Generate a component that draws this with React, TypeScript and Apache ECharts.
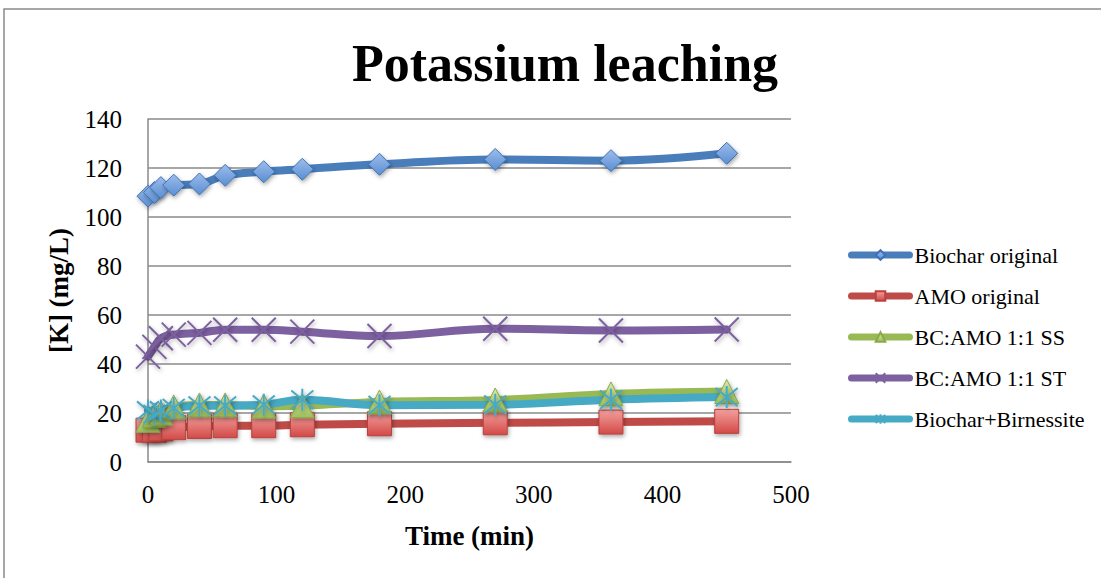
import React, { useEffect, useRef } from "react";
import * as echarts from "echarts";

const times = [0, 5, 10, 20, 40, 60, 90, 120, 180, 270, 360, 450];
const biocharOriginal = [108.5, 110, 112, 113, 113.5, 117, 118.5, 119.5, 121.5, 123.5, 123, 126];
const amoOriginal = [13, 13, 13.5, 14, 14.5, 14.8, 14.8, 15.2, 15.6, 16, 16.3, 16.6];
const bcAmoSS = [17, 19, 20, 22.5, 23.3, 23.3, 22.8, 23, 24.5, 25.3, 27.8, 28.8];
const bcAmoST = [43, 47, 50.5, 52, 52.7, 54, 54, 53.2, 51.4, 54.4, 53.7, 54.1];
const biocharBirnessite = [21, 19.5, 21, 22, 23, 23, 23.4, 25.4, 23.2, 23.4, 25.4, 26.5];

const seriesNames = [
  "Biochar original",
  "AMO original",
  "BC:AMO 1:1 SS",
  "BC:AMO 1:1 ST",
  "Biochar+Birnessite",
];
const yTicks = { min: 0, max: 140, interval: 20 };
const xTicks = { min: 0, max: 500, interval: 100 };

const FONT = "Liberation Serif";

function pairs(values: number[]) {
  return times.map((t, i) => [t, values[i]]);
}

function grad(top: string, bottom: string) {
  return new echarts.graphic.LinearGradient(0, 0, 0, 1, [
    { offset: 0, color: top },
    { offset: 1, color: bottom },
  ]);
}

export default function App() {
  const ref = useRef<HTMLDivElement>(null);

  useEffect(() => {
    if (!ref.current) return;
    const chart = echarts.init(ref.current, undefined, { renderer: "svg" });
    const shadow = {
      shadowBlur: 4,
      shadowColor: "rgba(0,0,0,0.35)",
      shadowOffsetX: 1,
      shadowOffsetY: 2,
    };
    const lineW = 8;
    const mk = (
      name: string,
      data: number[],
      lineColor: string,
      symbol: string,
      symbolSize: number,
      itemStyle: any
    ) => ({
      type: "line",
      name,
      data: pairs(data),
      smooth: 0.4,
      symbol,
      symbolSize,
      showAllSymbol: true,
      lineStyle: { color: lineColor, width: lineW, cap: "round" },
      itemStyle: { ...itemStyle, ...shadow },
      emphasis: { disabled: true },
    });

    const option: any = {
      animation: false,
      backgroundColor: "#ffffff",
      title: {
        text: "Potassium leaching",
        left: 560,
        top: 32,
        textAlign: "center",
        textStyle: {
          fontFamily: FONT,
          fontWeight: "bold",
          fontSize: 52,
          color: "#000",
        },
      },
      graphic: [
        {
          type: "rect",
          shape: { x: 4, y: 9, width: 1300, height: 800 },
          style: { fill: "none", stroke: "#8a8a8a", lineWidth: 1.5 },
          silent: true,
          z: -1,
        },
      ],
      grid: { left: 148, top: 119, right: 310, bottom: 116 },
      legend: {
        orient: "vertical",
        left: 843,
        top: 238,
        itemWidth: 58,
        itemHeight: 12,
        itemGap: 17,
        lineStyle: { width: 7, cap: "round" },
        textStyle: {
          fontFamily: FONT,
          fontSize: 22,
          color: "#000",
          lineHeight: 24,
        },
        data: seriesNames,
      },
      xAxis: {
        type: "value",
        min: xTicks.min,
        max: xTicks.max,
        interval: xTicks.interval,
        name: "Time (min)",
        nameLocation: "middle",
        nameGap: 60,
        nameTextStyle: {
          fontFamily: FONT,
          fontWeight: "bold",
          fontSize: 27,
          color: "#000",
        },
        axisLine: { show: true, lineStyle: { color: "#8a8a8a", width: 1.5 } },
        axisTick: { show: false },
        splitLine: { show: false },
        axisLabel: {
          fontFamily: FONT,
          fontSize: 25,
          color: "#000",
          margin: 20,
        },
      },
      yAxis: {
        type: "value",
        min: yTicks.min,
        max: yTicks.max,
        interval: yTicks.interval,
        name: "[K] (mg/L)",
        nameLocation: "middle",
        nameGap: 76,
        nameRotate: 90,
        nameTextStyle: {
          fontFamily: FONT,
          fontWeight: "bold",
          fontSize: 27,
          color: "#000",
        },
        axisLine: { show: true, lineStyle: { color: "#8a8a8a", width: 1.5 } },
        axisTick: { show: false },
        splitLine: { show: true, lineStyle: { color: "#8a8a8a", width: 1.5 } },
        axisLabel: {
          fontFamily: FONT,
          fontSize: 25,
          color: "#000",
          margin: 26,
        },
      },
      series: [
        mk(seriesNames[0], biocharOriginal, "#4A7EBB", "diamond", 22, {
          color: grad("#9DBDEB", "#5A8ED3"),
          borderColor: "#3F72B5",
          borderWidth: 1,
        }),
        mk(seriesNames[1], amoOriginal, "#BE4B48", "rect", 24, {
          color: grad("#F4A09E", "#D24A47"),
          borderColor: "#B9413E",
          borderWidth: 1,
        }),
        mk(seriesNames[2], bcAmoSS, "#98B954", "triangle", 24, {
          color: grad("#D9EBB0", "#9DC05A"),
          borderColor: "#8AAA48",
          borderWidth: 1,
        }),
        mk(
          seriesNames[3],
          bcAmoST,
          "#7D60A0",
          "path://M0,0L10,10M10,0L0,10",
          24,
          {
            color: "rgba(0,0,0,0)",
            borderColor: "#7D60A0",
            borderWidth: 2,
          }
        ),
        mk(
          seriesNames[4],
          biocharBirnessite,
          "#46AAC5",
          "path://M0,0L10,10M10,0L0,10M5,-1L5,11",
          22,
          {
            color: "rgba(0,0,0,0)",
            borderColor: "#46AAC5",
            borderWidth: 2,
          }
        ),
      ],
    };
    chart.setOption(option);
    return () => chart.dispose();
  }, []);

  return (
    <div
      ref={ref}
      style={{ position: "fixed", left: 0, top: 0, width: 1101, height: 578 }}
    />
  );
}
